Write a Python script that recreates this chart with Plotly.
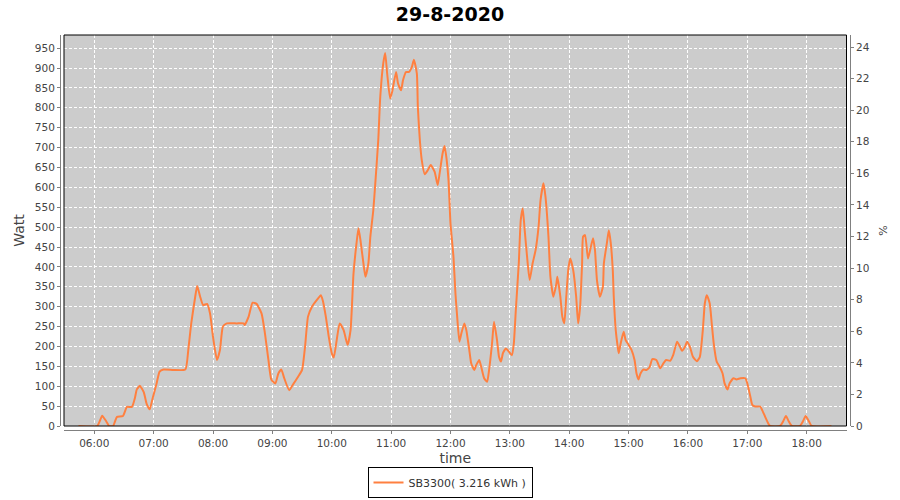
import plotly.graph_objects as go

DAY = "2020-08-29"
times = ["05:44","06:03","06:06","06:08","06:12","06:15","06:19","06:21","06:23","06:29","06:33","06:38","06:41","06:43","06:46","06:50","06:53","06:56","06:59","07:03","07:06","07:10","07:20","07:32","07:35","07:38","07:42","07:44","07:47","07:50","07:54","07:57","08:00","08:04","08:07","08:10","08:14","08:24","08:31","08:32","08:36","08:40","08:44","08:49","08:52","08:56","08:59","09:03","09:06","09:09","09:12","09:17","09:21","09:26","09:30","09:33","09:36","09:40","09:45","09:49","09:51","09:54","09:57","10:00","10:02","10:05","10:08","10:12","10:16","10:19","10:22","10:25","10:27","10:29","10:32","10:34","10:37","10:39","10:42","10:44","10:47","10:49","10:52","10:54","10:56","10:59","11:01","11:05","11:07","11:10","11:12","11:15","11:18","11:21","11:23","11:26","11:27","11:29","11:31","11:34","11:37","11:40","11:44","11:47","11:49","11:52","11:54","11:56","11:58","12:00","12:03","12:05","12:07","12:09","12:11","12:14","12:16","12:19","12:21","12:24","12:26","12:29","12:31","12:34","12:37","12:39","12:42","12:44","12:47","12:49","12:51","12:53","12:56","12:59","13:02","13:04","13:06","13:09","13:11","13:13","13:15","13:18","13:20","13:23","13:26","13:29","13:31","13:34","13:36","13:39","13:41","13:44","13:47","13:48","13:51","13:53","13:55","13:57","13:59","14:01","14:04","14:07","14:09","14:11","14:13","14:14","14:16","14:19","14:24","14:26","14:28","14:31","14:34","14:35","14:38","14:40","14:42","14:44","14:45","14:47","14:49","14:50","14:52","14:55","14:57","15:00","15:03","15:06","15:08","15:10","15:12","15:15","15:18","15:21","15:24","15:28","15:32","15:35","15:38","15:42","15:45","15:49","15:52","15:54","15:57","15:59","16:02","16:05","16:09","16:12","16:15","16:17","16:19","16:22","16:24","16:26","16:29","16:32","16:35","16:37","16:40","16:42","16:46","16:49","16:53","16:58","17:00","17:03","17:05","17:08","17:13","17:15","17:18","17:21","17:23","17:33","17:36","17:39","17:42","17:45","17:53","17:56","17:59","18:03","18:05","18:25"]
watts = [0,0,15,26,12,0,0,12,23,25,48,48,70,92,101,85,55,42,70,107,137,142,141,142,191,258,325,352,325,304,307,283,224,166,191,250,258,258,258,254,275,310,307,283,241,166,116,107,132,142,120,90,105,124,141,199,275,300,317,329,315,275,224,183,172,216,258,241,204,241,384,459,497,467,409,375,409,476,543,610,719,827,911,938,886,823,840,890,861,844,869,890,890,903,921,886,802,719,668,633,643,656,639,606,635,685,704,672,618,509,425,333,266,212,233,258,241,191,157,141,153,166,149,120,111,141,208,262,216,174,162,183,195,187,178,208,291,409,518,547,492,409,367,409,442,501,568,610,576,476,375,325,358,375,325,275,258,325,392,421,392,325,258,300,409,476,480,421,472,442,367,325,350,409,459,492,459,392,325,241,199,183,208,237,216,204,191,166,132,117,132,142,141,147,168,166,145,157,166,164,178,212,199,189,199,212,199,174,163,174,241,308,329,308,258,208,162,149,132,107,92,107,120,117,120,120,107,74,53,49,49,40,23,7,0,0,11,25,11,0,0,11,25,8,0,0]
series_name = "SB3300( 3.216 kWh )"
title_text = "29-8-2020"
x_range = ["05:29:24", "18:40:12"]
watt_range = [0, 983]
pct_range = [0, 983 / 39.7]

xs = [f"{DAY} {t}" for t in times]

W, H = 900, 500
L, R, T, B = 60, 850, 35, 430
pw, ph = R - L, B - T
xdom = [4 / pw, (846.5 - L) / pw]
ydom = [4 / ph, 1]

fig = go.Figure()
fig.add_trace(go.Scatter(x=xs, y=watts, mode="lines", name=series_name,
                         line=dict(color="rgb(255,128,64)", width=2, shape="spline", smoothing=0.5),
                         showlegend=True))
fig.add_trace(go.Scatter(x=[], y=[], yaxis="y2", showlegend=False, hoverinfo="skip"))

tickfont = dict(family="DejaVu Sans", size=10.5, color="#444444")
gridkw = dict(showgrid=True, gridcolor="white", griddash="3px,2px", gridwidth=1)

fig.update_layout(
    width=W, height=H,
    margin=dict(l=L, r=W - R, t=T, b=H - B, pad=0, autoexpand=False),
    paper_bgcolor="white", plot_bgcolor="#cccccc",
    title=dict(text="<b>" + title_text + "</b>", x=0.5, xanchor="center",
               xref="container", yref="container", y=1 - 14 / H, yanchor="middle",
               font=dict(family="DejaVu Sans", size=19, color="black")),
    xaxis=dict(type="date", domain=xdom, anchor="free", position=0, automargin=False,
               range=[f"{DAY} {x_range[0]}", f"{DAY} {x_range[1]}"],
               dtick=3600000, tick0=f"{DAY} 06:00", tickformat="%H:%M",
               showline=True, linecolor="#808080", linewidth=1,
               ticks="outside", ticklen=3, tickcolor="#808080",
               tickfont=tickfont, zeroline=False,
               title=dict(text="time", font=dict(family="DejaVu Sans", size=14, color="#444444"), standoff=5),
               **gridkw),
    yaxis=dict(domain=ydom, anchor="free", position=0, range=watt_range, dtick=50, automargin=False,
               showline=True, linecolor="#808080", linewidth=1,
               ticks="outside", ticklen=3, tickcolor="#808080",
               tickfont=tickfont, zeroline=False,
               title=dict(text="Watt", font=dict(family="DejaVu Sans", size=14, color="#444444"), standoff=5),
               **gridkw),
    yaxis2=dict(domain=ydom, overlaying="y", side="right", anchor="free", position=1, automargin=False,
                range=pct_range, dtick=2, showgrid=False, zeroline=False,
                showline=True, linecolor="#808080", linewidth=1,
                ticks="outside", ticklen=3, tickcolor="#808080",
                tickfont=tickfont,
                title=dict(text="%", font=dict(family="DejaVu Sans", size=11, color="#444444"), standoff=10)),
    legend=dict(orientation="h", x=0.5, xanchor="center", xref="container",
                y=2 / H, yanchor="bottom", yref="container",
                bgcolor="white", bordercolor="black", borderwidth=1,
                font=dict(family="DejaVu Sans", size=11, color="#333333"),
                itemwidth=30, tracegroupgap=0),
    showlegend=True,
)

fig.add_shape(type="rect", xref="x domain", yref="y domain", x0=0, x1=1, y0=0, y1=1,
              line=dict(color="black", width=1), fillcolor="rgba(0,0,0,0)", layer="above")

fig.write_html("out.html", config={"displayModeBar": False},
               post_script="document.body.style.margin='0px';")
